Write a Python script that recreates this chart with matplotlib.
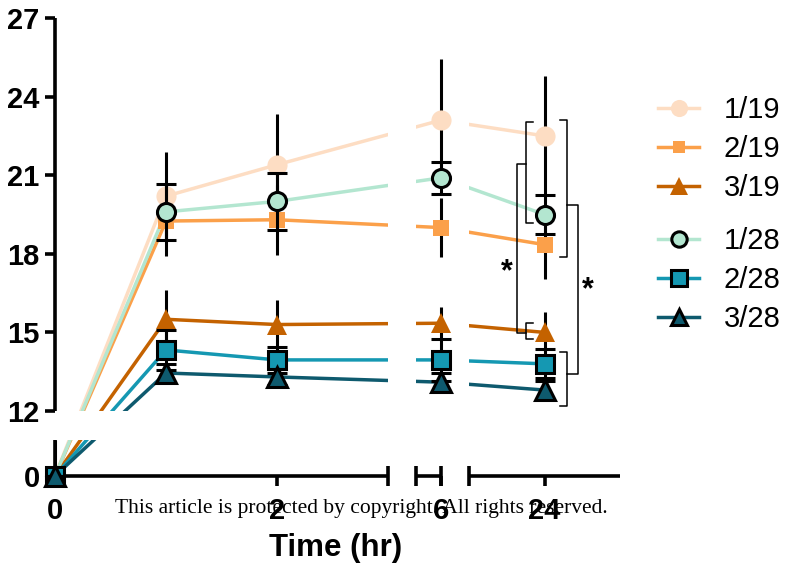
import numpy as np
import matplotlib
matplotlib.use("Agg")
import matplotlib.pyplot as plt
from matplotlib.lines import Line2D

plt.rcParams['font.family'] = ['Liberation Sans', 'DejaVu Sans']

## Mean +/- SD over time, broken x and y axes (GraphPad style)

time = [0, 1, 2, 6, 24]
labels = ["1/19", "2/19", "3/19", "1/28", "2/28", "3/28"]

mean_1_19 = [0, 20.2, 21.4, 23.1, 22.5]
mean_2_19 = [0, 19.25, 19.3, 19.0, 18.35]
mean_3_19 = [0, 15.5, 15.3, 15.35, 15.0]
mean_1_28 = [0, 19.6, 20.0, 20.9, 19.5]
mean_2_28 = [0, 14.33, 13.95, 13.95, 13.8]
mean_3_28 = [0, 13.45, 13.3, 13.1, 12.8]

sd_1_19 = [1.0, 1.7, 1.95, 2.35, 2.3]
sd_2_19 = [0, 1.35, 1.33, 1.13, 1.3]
sd_3_19 = [0, 1.1, 0.92, 0.62, 0.76]
sd_1_28 = [0, 1.06, 1.08, 0.6, 0.76]
sd_2_28 = [0, 0.77, 0.5, 0.8, 0.55]
sd_3_28 = [0, 0.35, 0.3, 0.35, 0.35]

means = [mean_1_19, mean_2_19, mean_3_19, mean_1_28, mean_2_28, mean_3_28]
sds = [sd_1_19, sd_2_19, sd_3_19, sd_1_28, sd_2_28, sd_3_28]

colors = ['#FDDDC3', '#FBA04A', '#C46200', '#B3E6D0', '#1598B2', '#0E5A6E']
markers = ['o', 's', '^', 'o', 's', '^']
msizes = [14.5, 11, 14.5, 13, 13.5, 14]
edges = [None, None, None, 'black', 'black', 'black']

# broken axes: pieces of each axis and where they sit (pixel offsets)
x_knots = [-10, 0, 3, 5, 6, 20, 28, 40]
x_pix = [-1110, 0, 333, 361, 386, 414, 565, 791.5]
y_knots = [-27, 0, 1, 12, 27, 54]
y_pix = [-972, 0, 36, 65, 458, 1165.4]


def fx(v):
    return np.interp(v, x_knots, x_pix)


def fx_inv(p):
    return np.interp(p, x_pix, x_knots)


def fy(v):
    return np.interp(v, y_knots, y_pix)


def fy_inv(p):
    return np.interp(p, y_pix, y_knots)


W, H = 787, 566
fig = plt.figure(figsize=(W / 100, H / 100), dpi=100)
ax = fig.add_axes([55 / W, (H - 476) / H, 565 / W, 458 / H])
ax.set_xscale('function', functions=(fx, fx_inv))
ax.set_yscale('function', functions=(fy, fy_inv))
ax.set_xlim(0, 28)
ax.set_ylim(0, 27)

# connecting lines
for m, c in zip(means, colors):
    ax.plot(time, m, color=c, lw=2.5, zorder=2, clip_on=False)

# hide the lines inside the breaks
ax.axhspan(1, 12, color='white', zorder=2.5, lw=0)
ax.axvspan(3, 5, color='white', zorder=2.5, lw=0)
ax.axvspan(6, 20, color='white', zorder=2.5, lw=0)

# markers + error bars
for i in range(6):
    m = np.array(means[i])
    sd = np.array(sds[i])
    lower = np.minimum(sd, m)
    ec = edges[i] if edges[i] else colors[i]
    mew = 2.2 if edges[i] else 0
    ax.errorbar(time, m, yerr=[lower, sd], fmt=markers[i], ms=msizes[i],
                mfc=colors[i], mec=ec, mew=mew, ecolor='black', elinewidth=2.2,
                capsize=7, capthick=2.2, zorder=4 + i, clip_on=False)

# axis lines in pieces
for a, b in [(0, 3), (5, 6), (20, 28)]:
    ax.plot([a, b], [0, 0], color='black', lw=2.6, solid_capstyle='butt', clip_on=False, zorder=3)
ax.plot([3, 5, 6, 20], [0, 0, 0, 0], ls='none', marker='|', ms=14, mew=2.6, color='black',
        clip_on=False, zorder=3)
for a, b in [(0, 1), (12, 27)]:
    ax.plot([0, 0], [a, b], color='black', lw=2.6, solid_capstyle='butt', clip_on=False, zorder=3)

for s in ax.spines.values():
    s.set_visible(False)
ax.set_xticks([0, 2, 6, 24])
ax.set_yticks([0, 12, 15, 18, 21, 24, 27])
ax.tick_params(axis='both', direction='out', length=7, width=2.6, labelsize=21, colors='black')
ax.tick_params(axis='x', pad=8)
ax.tick_params(axis='y', pad=4)
for lbl in ax.get_xticklabels() + ax.get_yticklabels():
    lbl.set_fontweight('bold')
ax.minorticks_off()


def bracket(x_back, x_tip, y0, y1):
    ax.plot([x_tip, x_back, x_back, x_tip], [y0, y0, y1, y1], color='black', lw=1.1,
            clip_on=False, zorder=12)


# significance brackets at 24 h
bracket(23.02, 23.39, 23.03, 19.18)
bracket(25.19, 24.82, 23.11, 17.88)
bracket(23.02, 23.39, 15.36, 14.75)
bracket(25.19, 24.82, 14.25, 12.19)
ax.plot([23.02, 22.54, 22.54, 23.02], [21.43, 21.43, 14.98, 14.98], color='black', lw=1.1,
        clip_on=False, zorder=12)
ax.plot([25.19, 25.77, 25.77, 25.19], [19.86, 19.86, 13.41, 13.41], color='black', lw=1.1,
        clip_on=False, zorder=12)
ax.text(22.0, 17.3, '*', fontsize=22, fontweight='bold', ha='center', va='center', zorder=12)
ax.text(26.3, 16.6, '*', fontsize=22, fontweight='bold', ha='center', va='center', zorder=12)

# legends (two groups)
handles = []
for i in range(6):
    ec = edges[i] if edges[i] else colors[i]
    mew = 2.2 if edges[i] else 0
    handles.append(Line2D([], [], color=colors[i], lw=2.5, marker=markers[i],
                          ms=msizes[i] * 0.85, mfc=colors[i], mec=ec, mew=mew))
leg_kw = dict(frameon=False, fontsize=21, handlelength=1.4, handletextpad=0.85,
              labelspacing=0.38, loc='center left', bbox_transform=fig.transFigure)
leg1 = ax.legend(handles[:3], labels[:3], bbox_to_anchor=(0.803, 1 - 149 / H), **leg_kw)
ax.add_artist(leg1)
ax.legend(handles[3:], labels[3:], bbox_to_anchor=(0.803, 1 - 280 / H), **leg_kw)

fig.text(336 / W, 1 - 548 / H, 'Time (hr)', fontsize=22.5, fontweight='bold', ha='center', va='center')
fig.text(361 / W, 1 - 509 / H, 'This article is protected by copyright. All rights reserved.',
         family='Liberation Serif', fontsize=15.5, ha='center', va='center', zorder=20)

fig.savefig('out.png', dpi=100)
